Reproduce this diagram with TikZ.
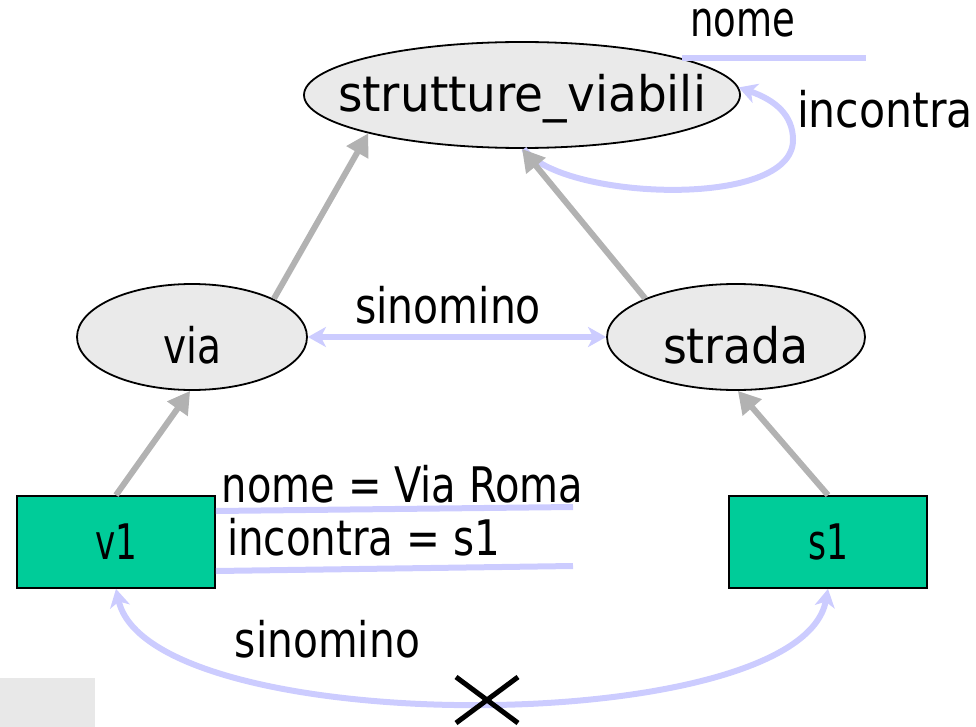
\documentclass[tikz,border=0pt]{standalone}
\usepackage{graphicx}
\usepackage{fontspec}
\setmainfont{DejaVu Sans}
\usetikzlibrary{shapes.geometric,arrows.meta}

\definecolor{edgeblue}{HTML}{CCCCFF}
\definecolor{isagray}{HTML}{B2B2B2}
\definecolor{classfill}{HTML}{EAEAEA}
\definecolor{instfill}{HTML}{00CC99}
\definecolor{padgray}{HTML}{E8E8E8}

% set a label to a given width (in pt), keeping its height
\newcommand\fitw[2]{\resizebox{#1pt}{\height}{#2}}
% same, but taking no room, so the node keeps its own size
\newcommand\fitz[2]{\makebox[0pt]{\fitw{#1}{#2}}}

\begin{document}
\begin{tikzpicture}[x=1pt,y=-1pt,
  every node/.style={font=\fontsize{49}{58}\selectfont},
  cls/.style={ellipse,draw=black,line width=1.8pt,fill=classfill,inner sep=0pt,
    minimum height=106pt,text depth=0pt},
  inst/.style={rectangle,draw=black,line width=1.8pt,fill=instfill,inner sep=0pt,
    minimum width=198pt,minimum height=92pt,text height=34pt,text depth=0pt},
  isa/.style={draw=isagray,line width=6pt,-{Triangle[length=22pt,width=24pt]}},
  rel/.style={draw=edgeblue,line width=6pt},
  bt/.style={Stealth[length=18pt,width=20pt,inset=5pt]},
  lbl/.style={anchor=base,inner sep=0pt}
]
\useasboundingbox (0,0) rectangle (976,727);

% grey pad in the lower left corner
\fill[padgray] (0,678) rectangle (95,727);

% classes
\node[cls,minimum width=436pt,text height=34pt] (sv) at (522,95) {\fitz{368}{strutture\_viabili}};
\node[cls,minimum width=230pt,text height=52pt] (via) at (192,337) {\fitz{58}{via}};
\node[cls,minimum width=258pt,text height=52pt] (strada) at (736,337) {\fitz{146}{strada}};

% instances
\node[inst] (v1) at (116,542) {\fitz{42}{v1}};
\node[inst] (s1) at (828,542) {\fitz{40}{s1}};

% attribute "nome" of the top class
\coordinate (nomeA) at (sv.13);
\coordinate (nomeB) at (866,58);
\draw[rel] (nomeA |- nomeB) -- (nomeB);
\node[lbl] (nomeT) at (742.5,37) {\fitw{105}{nome}};

% self relation "incontra"
\draw[rel,-{Stealth[length=18pt,width=20pt,inset=5pt]}] (sv.272)
  .. controls (560,200) and (793,210) .. (793,140)
  .. controls (793,115) and (775,100) .. (sv.2);
\node[lbl] (incT) at (885,128) {\fitw{176}{incontra}};

% is-a links
\draw[isa] (via.25) -- (sv.194);
\draw[isa] (strada.157) -- (sv.270);
\draw[isa] (v1.north) -- (via.268);
\draw[isa] (s1.north) -- (strada.272);

% synonym between the two classes
\draw[rel,{Stealth[length=18pt,width=20pt,inset=5pt]}-{Stealth[length=18pt,width=20pt,inset=5pt]}] (via.east) -- (strada.west);
\node[lbl] (syn1) at (448,323) {\fitw{186}{sinomino}};

% attribute values of v1
\coordinate (u1) at (573,507);
\coordinate (u2) at (573,566);
\draw[rel] (v1.east |- 0,511) -- (u1);
\draw[rel] (v1.east |- 0,571) -- (u2);
\node[lbl] (nvr) at (402.5,502) {\fitw{361}{nome = Via Roma}};
\node[lbl] (ins) at (363.5,555) {\fitw{273}{incontra = s1}};

% synonym between the instances, crossed out
\draw[rel,{Stealth[length=18pt,width=20pt,inset=5pt]}-{Stealth[length=18pt,width=20pt,inset=5pt]}] (v1.south)
  .. controls (150,740) and (800,740) .. (s1.south);
\node[lbl] (syn2) at (327.5,657) {\fitw{185}{sinomino}};
\coordinate (cross) at (487,700);
\draw[black,line width=5pt] (cross) ++(-31,-23) -- ++(62,46);
\draw[black,line width=5pt] (cross) ++(31,-23) -- ++(-62,46);
\end{tikzpicture}
\end{document}
